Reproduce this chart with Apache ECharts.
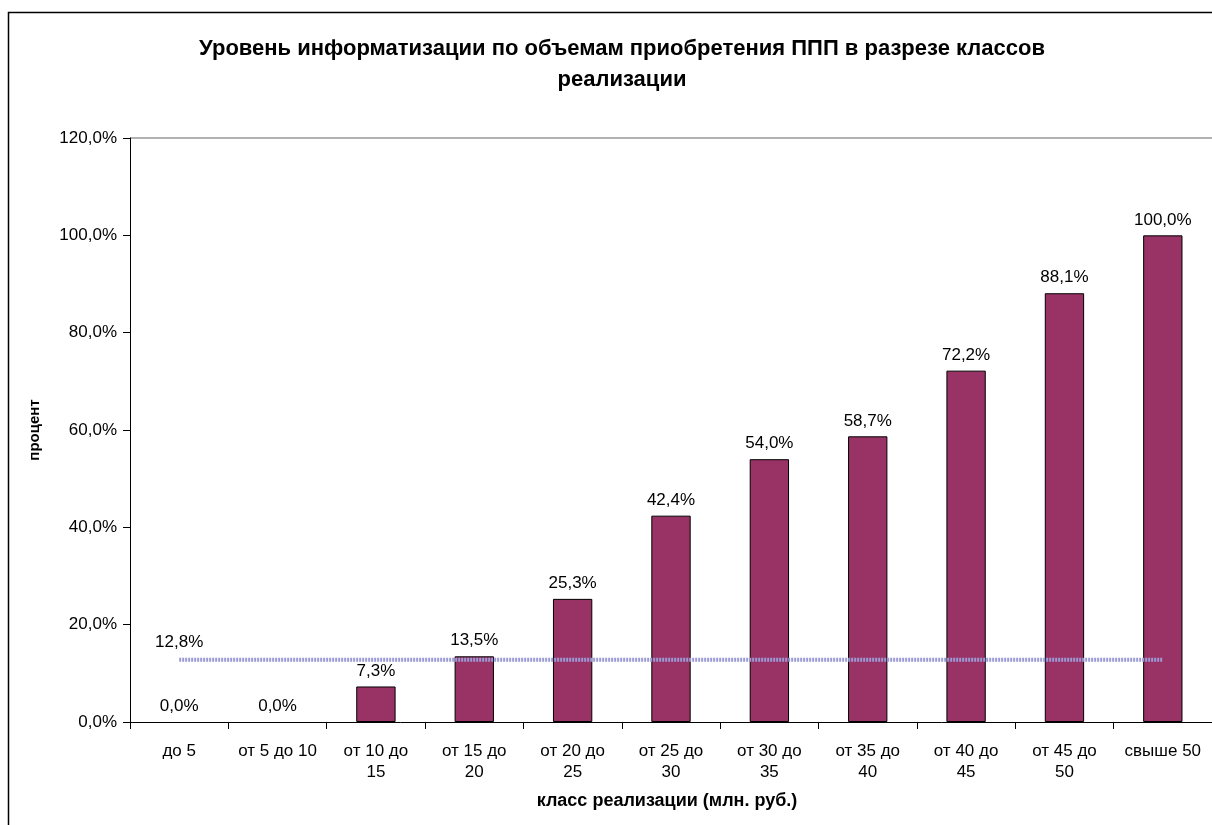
<!DOCTYPE html>
<html><head><meta charset="utf-8">
<script src="https://cdn.jsdelivr.net/npm/echarts@6/dist/echarts.min.js"></script>
<style>html,body{margin:0;padding:0;background:#fff}#c{width:1212px;height:825px}</style>
</head><body><div id="c"></div>
<script>
var categories = ['до 5','от 5 до 10','от 10 до\n15','от 15 до\n20','от 20 до\n25','от 25 до\n30','от 30 до\n35','от 35 до\n40','от 40 до\n45','от 45 до\n50','свыше 50'];
var values = [0.0, 0.0, 7.3, 13.5, 25.3, 42.4, 54.0, 58.7, 72.2, 88.1, 100.0];
var average = 12.8;
var yTicks = [0, 20, 40, 60, 80, 100, 120];

function fmt(v){ return v.toFixed(1).replace('.', ',') + '%'; }
var barData = values.map(function(v){
  return v === 0 ? {value: v, itemStyle: {borderWidth: 0}} : v;
});
var avgData = categories.map(function(c, i){
  return i === 0 ? {value: average, label: {show: true}} : average;
});
var font = 'Liberation Sans, Arial, sans-serif';
var chart = echarts.init(document.getElementById('c'));
chart.setOption({
  animation: false,
  textStyle: {fontFamily: font, color: '#000'},
  title: {
    text: 'Уровень информатизации по объемам приобретения ППП в разрезе классов\nреализации',
    left: 617, top: 28, textAlign: 'center',
    textStyle: {fontSize: 22, fontWeight: 'bold', lineHeight: 31, color: '#000', fontFamily: font}
  },
  graphic: [{
    type: 'rect', shape: {x: 8.5, y: 12.5, width: 1300, height: 900},
    style: {fill: 'none', stroke: '#000', lineWidth: 1.5}, silent: true
  }],
  grid: {left: 130, right: 0, top: 138, bottom: 103, containLabel: false},
  xAxis: {
    type: 'category', data: categories,
    name: 'класс реализации (млн. руб.)', nameLocation: 'middle', nameGap: 70,
    nameTextStyle: {fontSize: 18, fontWeight: 'bold', color: '#000', fontFamily: font, padding: [0, 8, 0, 0]},
    axisLine: {lineStyle: {color: '#000', width: 1}},
    axisTick: {show: true, length: 7, lineStyle: {color: '#000'}},
    axisLabel: {fontSize: 17, color: '#000', margin: 19, lineHeight: 21, interval: 0, fontFamily: font}
  },
  yAxis: {
    type: 'value', min: 0, max: 120, interval: 20,
    name: 'процент', nameLocation: 'middle', nameGap: 88, nameRotate: 90,
    nameTextStyle: {fontSize: 15, fontWeight: 'bold', color: '#000', fontFamily: font},
    axisLine: {show: true, lineStyle: {color: '#000', width: 1}},
    axisTick: {show: true, length: 7, lineStyle: {color: '#000'}},
    axisLabel: {fontSize: 17, color: '#000', margin: 13, fontFamily: font,
      formatter: function(v){ return fmt(v); }},
    splitLine: {show: true, lineStyle: {color: ['transparent','transparent','transparent','transparent','transparent','transparent','#999'], width: 1.5}}
  },
  series: [{
    type: 'bar', data: barData, barWidth: '40%',
    itemStyle: {color: '#993366', borderColor: '#000', borderWidth: 1},
    label: {show: true, position: 'top', distance: 7, fontSize: 17, color: '#000', fontFamily: font,
      formatter: function(p){ return fmt(p.value); }}
  }, {
    type: 'line', data: avgData, symbol: 'circle', symbolSize: 1, showSymbol: true, z: 5,
    itemStyle: {color: 'rgba(0,0,0,0)'},
    lineStyle: {color: '#9a9ad6', width: 4, type: [2, 1]},
    label: {show: false, position: 'top', distance: 8, fontSize: 17, color: '#000', fontFamily: font,
      formatter: function(p){ return fmt(p.value); }}
  }]
});
</script></body></html>
